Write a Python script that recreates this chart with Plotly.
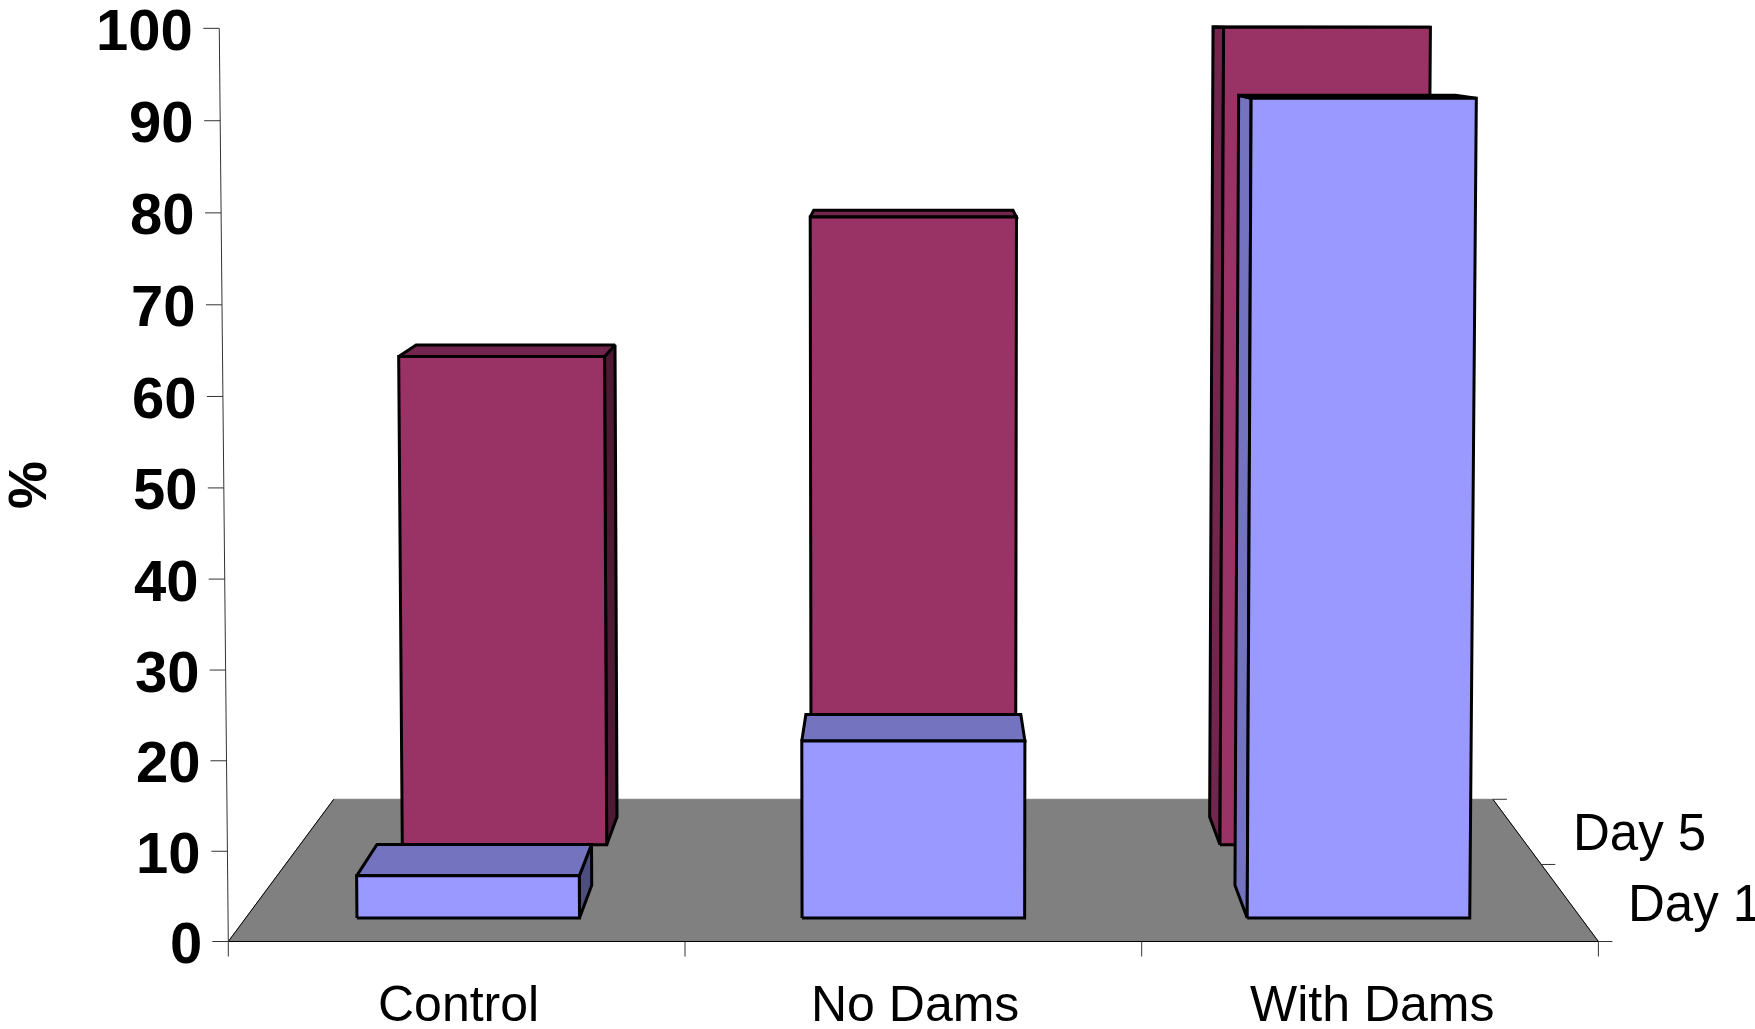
import plotly.graph_objects as go

# ---- data ----
categories = ["Control", "No Dams", "With Dams"]
series_names = ["Day 1", "Day 5"]
day1_values = [4.8, 20.1, 92.2]
day5_values = [60.0, 77.0, 100.0]
y_ticks = [0, 10, 20, 30, 40, 50, 60, 70, 80, 90, 100]

# ---- colours ----
DAY1 = dict(front="#9999FF", top="#7373BF", left="#7373BF", right="#4D4D80")
DAY5 = dict(front="#993366", top="#73264D", left="#73264D", right="#4D1933")
FLOOR = "#808080"

# ---- perspective camera of the 3-D chart ----
W, H = 1755, 1029
X_LEFT = 228.3        # left end of the front floor edge
CAT_W = 456.7         # category width on the front plane
X_VANISH = 913.3
Y_FLOOR = 941.5       # front floor edge
Y_HORIZON = 17.9
PX_PER_UNIT = 9.133
DEPTH_PERSP = 0.182
HEIGHT_PERSP = 0.00013


def project(cat_pos, depth, value):
    w = 1 + DEPTH_PERSP * depth - HEIGHT_PERSP * value
    front_x = X_LEFT + cat_pos * CAT_W
    front_y = Y_FLOOR - PX_PER_UNIT * value
    return (X_VANISH + (front_x - X_VANISH) / w,
            Y_HORIZON + (front_y - Y_HORIZON) / w)


fig = go.Figure()


def poly(points, fill=None, color="black", width=1.0):
    pts = list(points)
    if fill:
        pts = pts + [pts[0]]
    fig.add_trace(go.Scatter(
        x=[p[0] for p in pts], y=[p[1] for p in pts], mode="lines",
        fill="toself" if fill else None, fillcolor=fill,
        line=dict(color=color, width=width), hoverinfo="skip", showlegend=False))


n_cat = len(categories)
n_row = len(series_names)

# floor
poly([project(0, 0, 0), project(n_cat, 0, 0), project(n_cat, 1, 0), project(0, 1, 0)],
     fill=FLOOR, color=FLOOR, width=1)
poly([project(0, 1, 0), project(0, 0, 0), project(n_cat, 0, 0), project(n_cat, 1, 0)],
     color="black", width=1)

# value axis
poly([project(0, 0, y_ticks[0]), project(0, 0, y_ticks[-1])], color="#333333", width=1)
annotations = []
for t in y_ticks:
    px, py = project(0, 0, t)
    fig.add_trace(go.Scatter(x=[px - 16, px], y=[py, py], mode="lines",
                             line=dict(color="#333333", width=1), hoverinfo="skip", showlegend=False))
    annotations.append(dict(x=px - 24, y=py + 1, text=f"<b>{t}</b>", xanchor="right", yanchor="middle",
                            showarrow=False, font=dict(size=58, color="black",
                                                       family="Liberation Sans")))

# category axis
for i in range(n_cat + 1):
    px, py = project(i, 0, 0)
    fig.add_trace(go.Scatter(x=[px, px], y=[py, py + 15], mode="lines",
                             line=dict(color="#333333", width=1), hoverinfo="skip", showlegend=False))
for i, c in enumerate(categories):
    px, py = project(i + 0.5, 0, 0)
    annotations.append(dict(x=px + 2, y=py + 62, text=c, xanchor="center", yanchor="middle",
                            showarrow=False, font=dict(size=50, color="black",
                                                       family="Liberation Sans")))

# series axis
for r in range(n_row + 1):
    px, py = project(n_cat, r / n_row, 0)
    fig.add_trace(go.Scatter(x=[px, px + 14], y=[py, py], mode="lines",
                             line=dict(color="#333333", width=1), hoverinfo="skip", showlegend=False))
SERIES_LABEL_POS = [(1626, 903), (1571, 832)]
for name, (lx, ly) in zip(series_names, SERIES_LABEL_POS):
    annotations.append(dict(x=lx, y=ly, text=name, xanchor="left", yanchor="middle",
                            showarrow=False, font=dict(size=51, color="black",
                                                       family="Liberation Sans")))

annotations.append(dict(x=27, y=485, text="<b>%</b>", textangle=-90, xanchor="center", yanchor="middle",
                        showarrow=False, font=dict(size=54, color="black", family="Liberation Sans")))


def bar(i, row, value, colors):
    x0, x1 = i + 0.25, i + 0.75
    d0, d1 = (row + 0.286) / n_row, (row + 0.714) / n_row
    lw = 3
    sx0 = project(x0, d0, 0)[0]
    sx1 = project(x1, d0, 0)[0]
    if sx1 < X_VANISH:
        poly([project(x1, d0, 0), project(x1, d1, 0), project(x1, d1, value), project(x1, d0, value)],
             fill=colors["right"], width=lw)
    if sx0 > X_VANISH:
        poly([project(x0, d0, 0), project(x0, d1, 0), project(x0, d1, value), project(x0, d0, value)],
             fill=colors["left"], width=lw)
    poly([project(x0, d0, value), project(x1, d0, value), project(x1, d1, value), project(x0, d1, value)],
         fill=colors["top"], width=lw)
    poly([project(x0, d0, 0), project(x1, d0, 0), project(x1, d0, value), project(x0, d0, value)],
         fill=colors["front"], width=lw)


# back row first, front row on top
for i, v in enumerate(day5_values):
    bar(i, 1, v, DAY5)
for i, v in enumerate(day1_values):
    bar(i, 0, v, DAY1)

fig.update_layout(
    width=W, height=H, margin=dict(l=0, r=0, t=0, b=0),
    paper_bgcolor="white", plot_bgcolor="white", showlegend=False,
    xaxis=dict(range=[0, W], visible=False, fixedrange=True),
    yaxis=dict(range=[H, 0], visible=False, fixedrange=True),
    annotations=annotations,
)
fig.write_html("out.html", config=dict(displayModeBar=False),
               post_script="document.body.style.margin='0';document.body.style.overflow='hidden';")
